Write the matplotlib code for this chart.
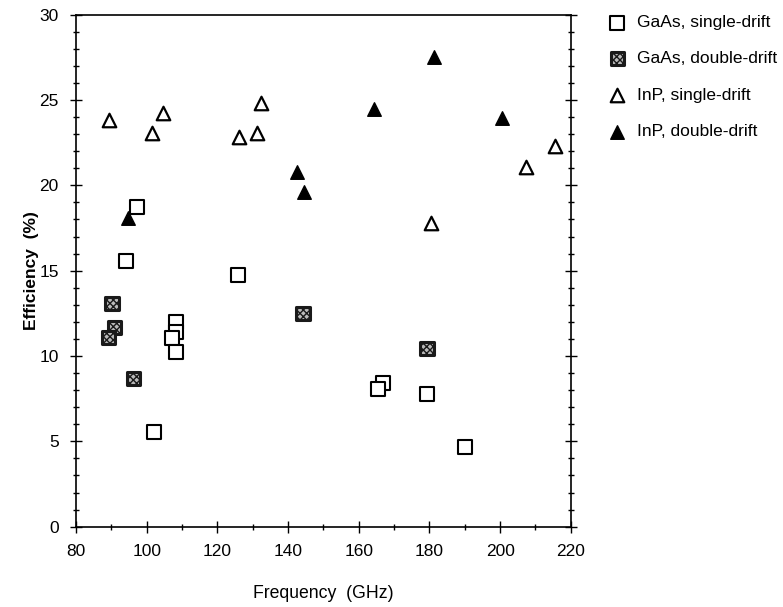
import matplotlib
matplotlib.use('Agg')
import matplotlib.pyplot as plt
from matplotlib.ticker import MultipleLocator

plt.rcParams['font.family'] = ['Liberation Sans', 'DejaVu Sans']

# GaAs, single-drift (open squares)
gaas_sd_f = [97.2, 94.2, 108.3, 108.3, 107.1, 108.3, 102.1, 125.9, 167.0, 165.4, 179.3, 190.1]
gaas_sd_e = [18.76, 15.57, 11.98, 11.43, 11.06, 10.26, 5.57, 14.75, 8.44, 8.05, 7.76, 4.69]

# GaAs, double-drift (stippled squares)
gaas_dd_f = [90.2, 91.0, 89.1, 96.2, 144.2, 179.3]
gaas_dd_e = [13.1, 11.67, 11.08, 8.66, 12.47, 10.46]

# InP, single-drift (open triangles)
inp_sd_f = [89.4, 101.4, 104.5, 126.2, 131.3, 132.3, 180.5, 207.4, 215.6]
inp_sd_e = [23.84, 23.06, 24.23, 22.86, 23.06, 24.82, 17.78, 21.1, 22.3]

# InP, double-drift (filled triangles)
inp_dd_f = [94.6, 142.5, 144.5, 164.4, 181.4, 200.5]
inp_dd_e = [18.08, 20.8, 19.64, 24.5, 27.55, 23.94]

fig = plt.figure(figsize=(7.83, 6.07), dpi=100)
ax = fig.add_axes([0.0971, 0.1323, 0.6319, 0.8435])

ax.scatter(gaas_sd_f, gaas_sd_e, marker='s', s=90, facecolor='white',
           edgecolor='black', linewidth=1.5, label='GaAs, single-drift', zorder=3)
ax.scatter(gaas_dd_f, gaas_dd_e, marker='s', s=90, facecolor='#bbbbbb',
           edgecolor='#1a1a1a', linewidth=2.2, hatch='xxxxx',
           label='GaAs, double-drift', zorder=3)
ax.scatter(inp_sd_f, inp_sd_e, marker='^', s=95, facecolor='white',
           edgecolor='black', linewidth=1.6, label='InP, single-drift', zorder=3)
ax.scatter(inp_dd_f, inp_dd_e, marker='^', s=95, facecolor='black',
           edgecolor='black', linewidth=1.0, label='InP, double-drift', zorder=3)

ax.set_xlim(80, 220)
ax.set_ylim(0, 30)
ax.xaxis.set_major_locator(MultipleLocator(20))
ax.xaxis.set_minor_locator(MultipleLocator(10))
ax.yaxis.set_major_locator(MultipleLocator(5))
ax.yaxis.set_minor_locator(MultipleLocator(1))
ax.tick_params(which='both', direction='inout', right=True, top=False,
               labelsize=12.5, width=1.0, pad=8)
ax.tick_params(which='major', length=9)
ax.tick_params(which='minor', length=5)
for sp in ax.spines.values():
    sp.set_linewidth(1.2)

ax.set_xlabel('Frequency  (GHz)', fontsize=12.7, labelpad=19)
ax.set_ylabel('Efficiency  (%)', fontsize=12.5, fontweight='bold', labelpad=0)

ax.legend(loc='upper left', bbox_to_anchor=(1.045, 1.03), frameon=False,
          fontsize=12.5, handletextpad=0.65, labelspacing=1.22,
          handlelength=1.0, scatterpoints=1)

fig.savefig('out.png', dpi=100)
